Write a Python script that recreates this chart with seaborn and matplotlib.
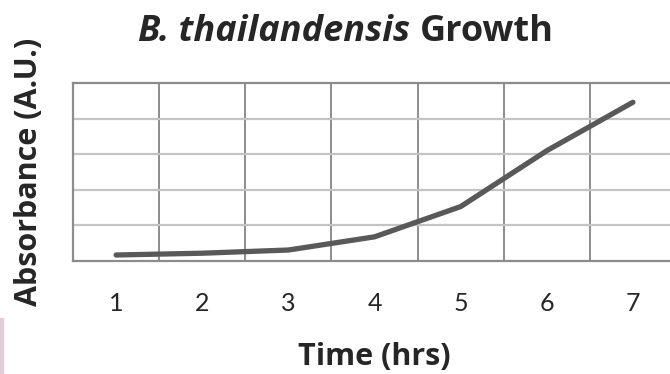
import pandas as pd
import matplotlib.pyplot as plt
import seaborn as sns
from matplotlib.patches import Rectangle

# growth data (absorbance)
hours = [1, 2, 3, 4, 5, 6, 7]
absorbance = [0.034, 0.044, 0.062, 0.136, 0.306, 0.620, 0.892]
y_grid = [0.0, 0.2, 0.4, 0.6, 0.8, 1.0]

df = pd.DataFrame({"Time": hours, "Absorbance": absorbance})

sns.set_style("white")
plt.rcParams['font.family'] = ['Lato', 'DejaVu Sans']
bold_font = ['Open Sans', 'DejaVu Sans']

fig = plt.figure(figsize=(6.7, 3.74), dpi=100)
ax = fig.add_axes([0.109, 0.302, 0.9, 0.476])

sns.lineplot(x="Time", y="Absorbance", data=df, ax=ax, color="#595959",
             linewidth=3.8, solid_capstyle="round", zorder=3)

ax.set_xlim(0.5, 7.5)
ax.set_ylim(0, 1.0)

# gridlines: category borders vertical, value lines horizontal
for b in range(1, 7):
    ax.axvline(b + 0.5, color="#8c8c8c", lw=1.4, zorder=1)
for g in y_grid[1:-1]:
    ax.axhline(g, color="#c4c4c4", lw=1.6, zorder=1)

for s in ax.spines.values():
    s.set_color("#8c8c8c")
    s.set_linewidth(1.6)

ax.set_xticks(hours)
ax.set_xticklabels([str(h) for h in hours], fontsize=18)
ax.tick_params(axis="x", length=0, pad=22)
ax.set_yticks([])
ax.set_xlabel("Time (hrs)", fontsize=22, fontweight="bold", family=bold_font,
              labelpad=20)
ax.set_ylabel("Absorbance (A.U.)", fontsize=22, fontweight="bold",
              family=bold_font, labelpad=21)

# title with italic species name
fig.canvas.draw()
r = fig.canvas.get_renderer()
t1 = fig.text(0, 0.89, "B. thailandensis ", fontsize=26, fontweight="bold",
              style="italic", family=bold_font, ha="left", va="baseline")
t2 = fig.text(0, 0.89, "Growth", fontsize=26, fontweight="bold",
              family=bold_font, ha="left", va="baseline")
w1 = t1.get_window_extent(r).width / fig.bbox.width
w2 = t2.get_window_extent(r).width / fig.bbox.width
x0 = 0.516 - (w1 + w2) / 2
t1.set_x(x0)
t2.set_x(x0 + w1)

# faint slide edge at bottom left
fig.patches.append(Rectangle((0, 0), 0.005, 0.15, transform=fig.transFigure,
                             color="#e3ccd8", zorder=0))

plt.savefig("out.png", dpi=100)
